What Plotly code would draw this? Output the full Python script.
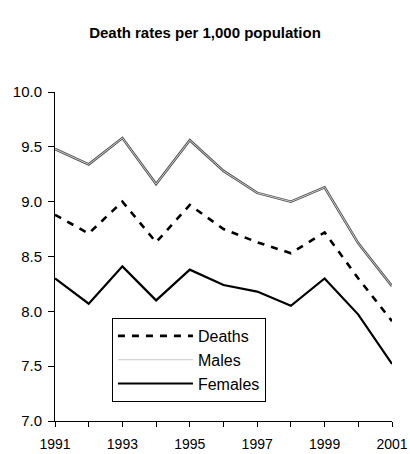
import plotly.graph_objects as go

years = [1991, 1992, 1993, 1994, 1995, 1996, 1997, 1998, 1999, 2000, 2001]
deaths = [8.88, 8.71, 9.00, 8.63, 8.97, 8.75, 8.63, 8.53, 8.72, 8.30, 7.91]
males = [9.48, 9.34, 9.58, 9.16, 9.56, 9.28, 9.08, 9.00, 9.13, 8.62, 8.23]
females = [8.30, 8.07, 8.41, 8.10, 8.38, 8.24, 8.18, 8.05, 8.30, 7.97, 7.52]

title_text = "Death rates per 1,000 population"

fig = go.Figure()
fig.add_trace(go.Scatter(x=years, y=deaths, mode="lines", name="Deaths",
                         line=dict(color="black", width=2.6, dash="7px,7px")))
# Males: double-line look (dark outline under light core)
fig.add_trace(go.Scatter(x=years, y=males, mode="lines", name="Males", showlegend=False,
                         line=dict(color="#555555", width=2.6)))
fig.add_trace(go.Scatter(x=years, y=males, mode="lines", name="Males",
                         line=dict(color="#c8c8c8", width=1)))
fig.add_trace(go.Scatter(x=years, y=females, mode="lines", name="Females",
                         line=dict(color="black", width=2.2)))

fig.update_layout(
    width=410, height=454,
    margin=dict(l=55, r=18, t=92, b=33, autoexpand=False),
    paper_bgcolor="white", plot_bgcolor="white",
    font=dict(family="Liberation Sans, Arial, sans-serif", size=14, color="black"),
    title=dict(text="<b>" + title_text + "</b>", x=0.5, xanchor="center",
               y=1 - 33 / 454, yanchor="middle", font=dict(size=15)),
    showlegend=True,
    legend=dict(x=0.169, y=0.313, xanchor="left", yanchor="top",
                bordercolor="black", borderwidth=1, bgcolor="white",
                font=dict(size=16), itemwidth=75),
)
fig.update_xaxes(range=[1991, 2001], dtick=2, tick0=1991, showgrid=False, zeroline=False,
                 showline=True, linecolor="black", linewidth=1, automargin=False,
                 ticks="outside", ticklen=5, tickcolor="black", tickfont=dict(size=14),
                 ticklabelstandoff=5,
                 minor=dict(dtick=1, ticks="outside", ticklen=5, tickcolor="black", showgrid=False))
fig.update_yaxes(range=[7, 10], dtick=0.5, tickformat=".1f", showgrid=False, zeroline=False,
                 showline=True, linecolor="black", linewidth=1, automargin=False,
                 ticks="outside", ticklen=6, tickcolor="black", tickfont=dict(size=15),
                 ticklabelstandoff=3)

fig.write_html("out.html", config={"displayModeBar": False},
               post_script="document.body.style.margin='0';")
